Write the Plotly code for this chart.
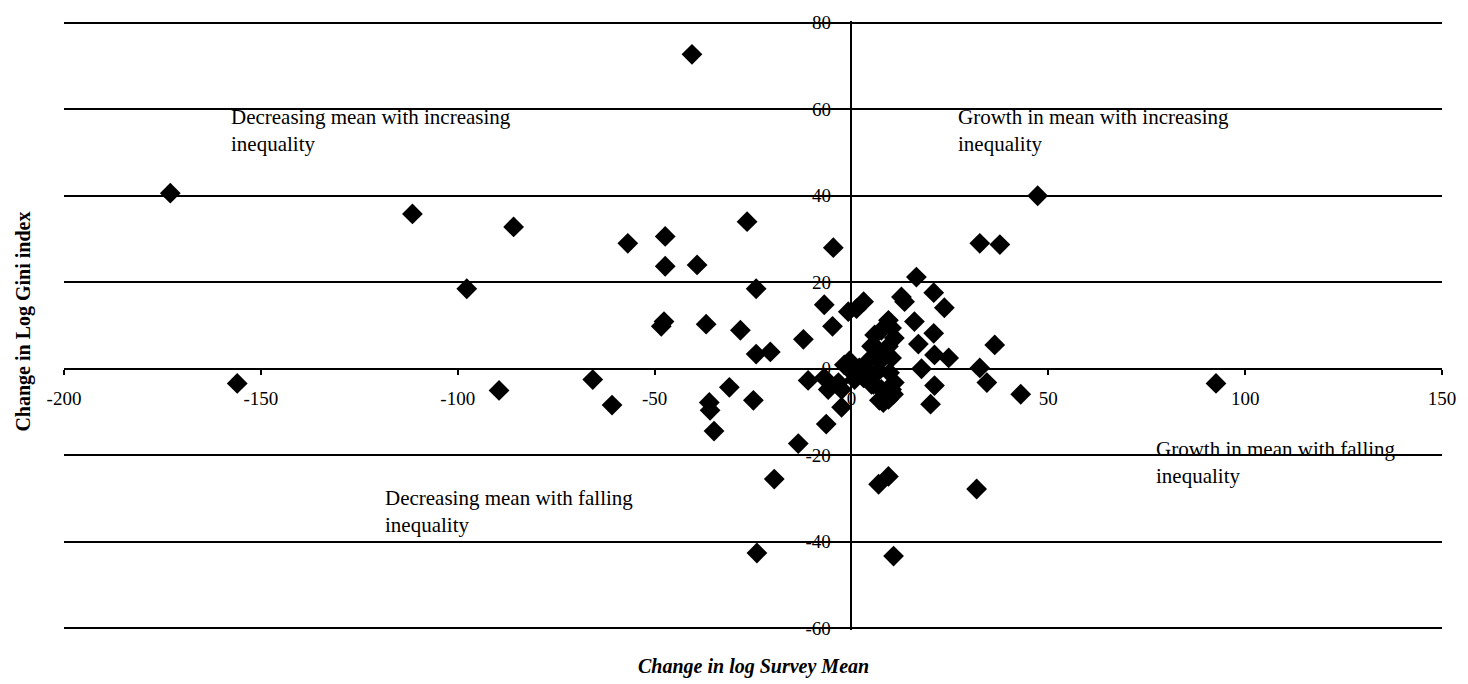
import plotly.graph_objects as go

# Change in log survey mean (x) and change in log Gini index (y)
mean_change = [
    -40.5, -173, -111.5, -85.8, -56.8, -47.3, -26.5, -4.6, 32.6, 37.7, 47.3,
    -97.7, -47.3, -39.2, -24.2, -6.9, -47.6, -48.3, -36.9, -28.2, -12.2, -4.8,
    -24.2, -20.6, -156, -89.5, -65.7, -60.8, -36.1, -35.9, -34.9, -31, -24.9,
    -11, -6.4, -13.5, -19.6, -2.5, -24, 10.7, 6.9, 9.4, 31.8, 43, 92.6, 36.4,
    32.6, 34.4,
    16.5, 20.9, 23.6, 12.7, 13.5, -0.8, 1.3, 3.1, 9.4, 16, 20.9, 17, 21.1, 24.7,
    17.8, 21.1, 20.1,
    5.9, 7.6, 10.2, 10.9, 5.1, 6.9, 9.4, 4.6, 7.6, 10.2, 4.3, 6.9, 9.7, 10.9,
    5.1, 7.6, 10.2, 7.1, 9.4, 10.7,
    -0.5, -1.8, 2.0, -0.5, 1.8, 0.8, 3.1, -6.9, -5.9, -3.3, -2.5, 5.6, 8.1,
]
gini_change = [
    72.7, 40.6, 35.8, 32.8, 29, 30.6, 34, 28, 29, 28.7, 40,
    18.5, 23.7, 24, 18.5, 14.8, 10.9, 9.8, 10.3, 8.9, 6.8, 9.8,
    3.4, 3.9, -3.4, -5, -2.5, -8.4, -7.8, -9.6, -14.4, -4.3, -7.3,
    -2.7, -12.8, -17.3, -25.5, -8.9, -42.6, -43.3, -26.7, -24.9, -27.8, -5.9, -3.4, 5.5,
    0.2, -3.2,
    21.2, 17.6, 14.1, 16.6, 15.5, 13.2, 13.9, 15.5, 11.2, 10.9, 8.2, 5.7, 3.2, 2.5,
    0, -3.9, -8.2,
    7.8, 8.9, 9.4, 7.1, 5.2, 4.3, 5.2, 2.1, 2.1, 2.5, -0.9, -0.5, -0.9, -3.2,
    -3.6, -4.8, -4.8, -7.3, -7.1, -5.9,
    1.8, 0.9, 0.2, -0.2, -1.4, -2.5, -2.1, -2.1, -4.8, -3.2, -4.8, -3.6, -7.8,
]

x_ticks = [-200, -150, -100, -50, 0, 50, 100, 150]
y_ticks = [-60, -40, -20, 0, 20, 40, 60, 80]
x_tick_text = ["-200", "-150", "-100", "-50", "0", "50", "100", "150"]
y_tick_text = ["-60", "-40", "-20", "0", "20", "40", "60", "80"]

quadrant_labels = [
    ("Decreasing mean with increasing<br>inequality", -158, 61.5),
    ("Growth in mean with increasing<br>inequality", 26.5, 61.5),
    ("Growth in mean with falling<br>inequality", 76.8, -15.3),
    ("Decreasing mean with falling<br>inequality", -119, -26.7),
]

SERIF = "Liberation Serif, Times New Roman, serif"

fig = go.Figure()
fig.add_trace(go.Scatter(
    x=mean_change, y=gini_change, mode="markers",
    marker=dict(symbol="diamond", size=16, color="black"),
    showlegend=False, cliponaxis=False,
))

annotations = []
for text, ax, ay in quadrant_labels:
    annotations.append(dict(
        text=text, x=ax, y=ay, xref="x", yref="y", xanchor="left", yanchor="top",
        align="left", showarrow=False, font=dict(family=SERIF, size=21, color="black"),
    ))
annotations.append(dict(
    text="<b><i>Change in log Survey Mean</i></b>", x=0.5, y=-0.06,
    xref="paper", yref="paper", xanchor="center", yanchor="middle", showarrow=False,
    font=dict(family=SERIF, size=20, color="black"),
))
annotations.append(dict(
    text="<b>Change in Log Gini index</b>", x=-0.029, y=0.5065,
    xref="paper", yref="paper", xanchor="center", yanchor="middle", showarrow=False,
    textangle=-90, font=dict(family=SERIF, size=20, color="black"),
))

fig.update_layout(
    width=1468, height=684,
    margin=dict(l=64, r=26, t=12, b=54),
    paper_bgcolor="white", plot_bgcolor="white",
    font=dict(family=SERIF, color="black"),
    annotations=annotations,
    xaxis=dict(
        range=[-200, 150], tickvals=x_ticks, ticktext=x_tick_text,
        showgrid=False, zeroline=False,
        showline=True, linecolor="black", linewidth=1.5,
        anchor="free", position=60.4 / 140.8,
        ticks="outside", ticklen=5, tickcolor="black", tickwidth=1.5,
        ticklabelstandoff=8,
        tickfont=dict(family=SERIF, size=19, color="black"),
    ),
    yaxis=dict(
        range=[-60.4, 80.4], tickvals=y_ticks, ticktext=y_tick_text,
        showgrid=True, gridcolor="black",
        gridwidth=1.5, zeroline=False, showline=True, linecolor="black",
        linewidth=1.5, anchor="free", position=200 / 350,
        ticks="", ticklabelstandoff=16,
        tickfont=dict(family=SERIF, size=19, color="black"),
    ),
)

fig.write_html(
    "out.html",
    config={"displayModeBar": False},
    post_script="document.body.style.margin='0';document.body.style.overflow='hidden';",
)
